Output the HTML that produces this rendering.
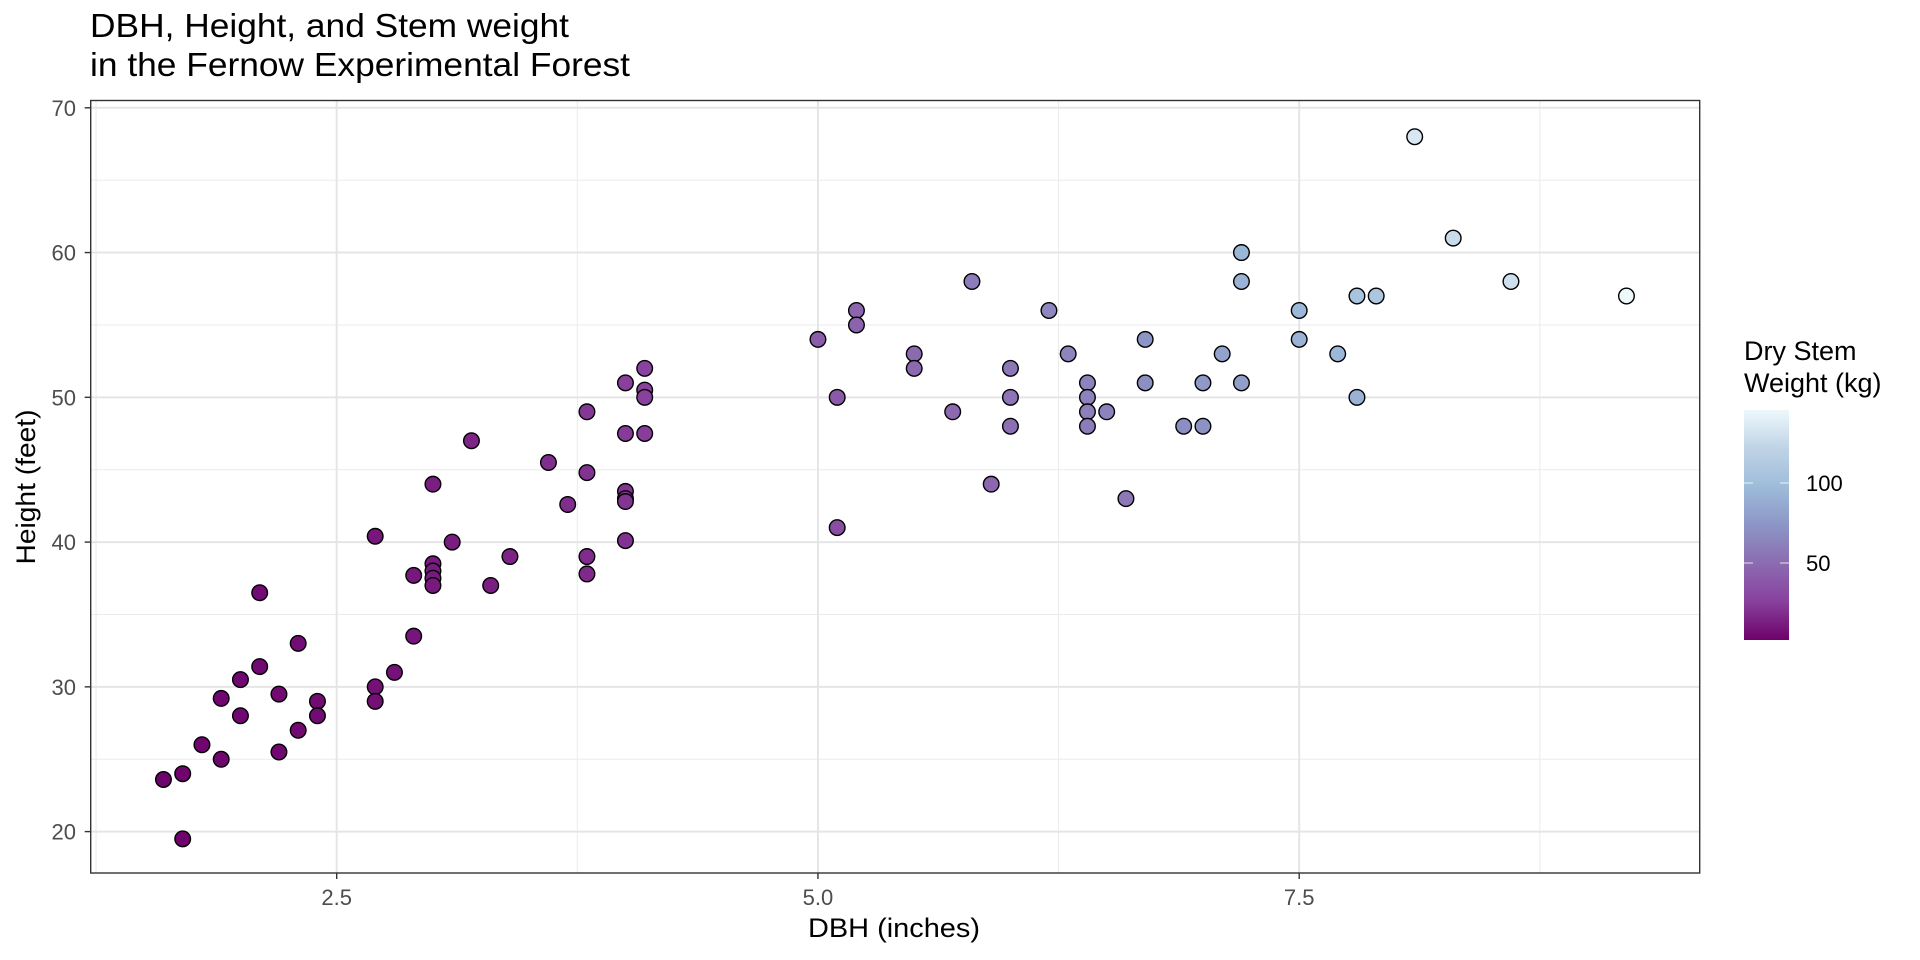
<!DOCTYPE html>
<html><head><meta charset="utf-8"><style>html,body{margin:0;padding:0;background:#fff}svg{display:block}text{font-family:"Liberation Sans",sans-serif}</style></head>
<body>
<svg id="s" width="1920" height="960" xmlns="http://www.w3.org/2000/svg">
<defs><linearGradient id="g" x1="0" y1="1" x2="0" y2="0">
<stop offset="0" stop-color="#6e016b"/><stop offset="0.167" stop-color="#88419d"/><stop offset="0.333" stop-color="#8c6bb1"/><stop offset="0.5" stop-color="#8c96c6"/><stop offset="0.667" stop-color="#9ebcda"/><stop offset="0.833" stop-color="#bfd3e6"/><stop offset="1" stop-color="#edf8fb"/></linearGradient></defs>
<rect width="1920" height="960" fill="#fff"/>
<g id="grid"></g>
<g id="pts"></g>
<rect x="90.7" y="100.5" width="1609" height="772.5" fill="none" stroke="#333" stroke-width="1.4"/>
<g id="ticks" font-size="22" fill="#4d4d4d"></g>
<text x="90" y="37" font-size="33" textLength="479" lengthAdjust="spacingAndGlyphs">DBH, Height, and Stem weight</text>
<text x="90" y="76" font-size="33" textLength="540" lengthAdjust="spacingAndGlyphs">in the Fernow Experimental Forest</text>
<text x="894" y="937" font-size="27" text-anchor="middle" textLength="172" lengthAdjust="spacingAndGlyphs">DBH (inches)</text>
<text transform="translate(35,487) rotate(-90)" font-size="27" text-anchor="middle" textLength="155" lengthAdjust="spacingAndGlyphs">Height (feet)</text>
<text x="1744" y="360" font-size="27">Dry Stem</text>
<text x="1744" y="392" font-size="27">Weight (kg)</text>
<rect x="1744" y="410" width="45" height="230" fill="url(#g)"/>
<g stroke="#fff" stroke-width="1" opacity="0.8"><line x1="1744" x2="1753" y1="483" y2="483"/><line x1="1780" x2="1789" y1="483" y2="483"/><line x1="1744" x2="1753" y1="563" y2="563"/><line x1="1780" x2="1789" y1="563" y2="563"/></g>
<text x="1806" y="491" font-size="22">100</text>
<text x="1806" y="571" font-size="22">50</text>
</svg>
<script>
var NS="http://www.w3.org/2000/svg";
function X(v){return 336.7+(v-2.5)*192.5}
function Y(v){return 831.6-(v-20)*14.476}
function el(p,t,a){var e=document.createElementNS(NS,t);for(var k in a)e.setAttribute(k,a[k]);document.getElementById(p).appendChild(e);return e}
var L=90.7,R=1699.7,T=100.5,B=873;
[1.25,3.75,6.25,8.75].forEach(function(v){el("grid","line",{x1:X(v),x2:X(v),y1:T,y2:B,stroke:"#ebebeb","stroke-width":1})});
[25,35,45,55,65].forEach(function(v){el("grid","line",{x1:L,x2:R,y1:Y(v),y2:Y(v),stroke:"#ebebeb","stroke-width":1})});
[2.5,5,7.5].forEach(function(v){el("grid","line",{x1:X(v),x2:X(v),y1:T,y2:B,stroke:"#e5e5e5","stroke-width":2});
 el("ticks","line",{x1:X(v),x2:X(v),y1:B,y2:B+6,stroke:"#333","stroke-width":1.4});
 var t=el("ticks","text",{x:X(v),y:905,"text-anchor":"middle"});t.textContent=v.toFixed(1)});
[20,30,40,50,60,70].forEach(function(v){el("grid","line",{x1:L,x2:R,y1:Y(v),y2:Y(v),stroke:"#e5e5e5","stroke-width":2});
 el("ticks","line",{x1:L-6,x2:L,y1:Y(v),y2:Y(v),stroke:"#333","stroke-width":1.4});
 var t=el("ticks","text",{x:76,y:Y(v)+8,"text-anchor":"end"});t.textContent=v});
var d=[[1.6,23.6],[1.7,24],[1.7,19.5],[1.8,26],[1.9,25],[1.9,29.2],[2.0,28],[2.0,30.5],[2.1,31.4],[2.1,36.5],[2.2,29.5],[2.2,25.5],[2.3,27],[2.3,33],[2.4,29],[2.4,28],[2.7,30],[2.7,29],[2.7,40.4],[2.8,31],[2.9,33.5],[2.9,37.7],[3.0,44],[3.0,38.5],[3.0,38],[3.0,37.5],[3.0,37],[3.1,40],[3.2,47],[3.3,37],[3.4,39],[3.6,45.5],[3.7,42.6],[3.8,49],[3.8,44.8],[3.8,39],[3.8,37.8],[4.0,51],[4.0,47.5],[4.0,43.5],[4.0,43],[4.0,42.8],[4.0,40.1],[4.1,52],[4.1,50.5],[4.1,50],[4.1,47.5],
[5.0,54],[5.1,50],[5.1,41],[5.2,56],[5.2,55],[5.5,53],[5.5,52],[5.7,49],[5.8,58],[5.9,44],[6.0,52],[6.0,50],[6.0,48],[6.2,56],[6.3,53],[6.4,51],[6.4,50],[6.4,49],[6.4,48],[6.5,49],[6.6,43],[6.7,54],[6.7,51],[6.9,48],[7.0,51],[7.0,48],[7.1,53],[7.2,60],[7.2,58],[7.2,51],[7.5,56],[7.5,54],[7.7,53],[7.8,57],[7.8,50],[7.9,57],[8.1,68],[8.3,61],[8.6,58],[9.2,57]];
var pal=["#6e016b","#88419d","#8c6bb1","#8c96c6","#9ebcda","#bfd3e6","#edf8fb"];
function hx(c){return [1,3,5].map(function(i){return parseInt(c.substr(i,2),16)})}
function col(w){var t=Math.max(0,Math.min(1,(w-1)/146))*6,i=Math.min(5,Math.floor(t)),f=t-i,a=hx(pal[i]),b=hx(pal[i+1]);
 return "rgb("+a.map(function(v,k){return Math.round(v+(b[k]-v)*f)}).join(",")+")"}
d.forEach(function(p){var w=0.0305*p[0]*p[0]*p[1];
 el("pts","circle",{cx:X(p[0]),cy:Y(p[1]),r:7.8,fill:col(w),stroke:"#000","stroke-width":1.4})});
</script>
</body></html>
